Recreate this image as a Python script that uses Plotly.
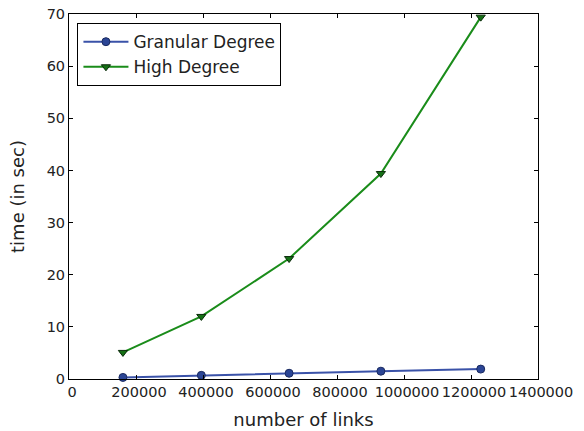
import plotly.graph_objects as go

# Number of links in each test graph
links = [161000, 395000, 657000, 931000, 1229000]

# Running times (seconds) for the two algorithms
granular_time = [0.3, 0.7, 1.1, 1.5, 1.9]
high_time = [5.1, 12.0, 23.1, 39.4, 69.4]

x_ticks = [0, 200000, 400000, 600000, 800000, 1000000, 1200000, 1400000]
y_ticks = [0, 10, 20, 30, 40, 50, 60, 70]

FONT = "DejaVu Sans"

fig = go.Figure()
fig.add_trace(go.Scatter(
    x=links, y=granular_time, mode="lines+markers", name="Granular Degree",
    line=dict(color="#3a52a8", width=2),
    marker=dict(symbol="circle", size=8, color="#2b4595",
                line=dict(color="#1a2a60", width=1)),
    cliponaxis=False,
))
fig.add_trace(go.Scatter(
    x=links, y=high_time, mode="lines+markers", name="High Degree",
    line=dict(color="#1a8c1a", width=2),
    marker=dict(symbol="triangle-down", size=8, color="#157015",
                line=dict(color="#0a2a0a", width=1)),
    cliponaxis=False,
))

axis_common = dict(
    showgrid=False, zeroline=False, showline=True, linecolor="black",
    linewidth=1, mirror="allticks", ticks="inside", ticklen=4,
    tickcolor="black", tickfont=dict(family=FONT, size=14.5, color="#222"),
    automargin=False, tickangle=0,
)

fig.update_layout(
    width=584, height=431,
    margin=dict(l=69, r=46, t=14, b=52),
    paper_bgcolor="white", plot_bgcolor="white",
    font=dict(family=FONT, color="#222"),
    showlegend=True,
    legend=dict(
        x=0.018, y=0.975, xanchor="left", yanchor="top",
        bgcolor="white", bordercolor="black", borderwidth=1,
        font=dict(family=FONT, size=17, color="#222"),
        itemwidth=45, tracegroupgap=0,
    ),
    xaxis=dict(
        range=[0, 1400000], tickvals=x_ticks,
        ticktext=[str(v) for v in x_ticks],
        ticklabelshift=3,
        title=dict(text="number of links", font=dict(family=FONT, size=18),
                   standoff=13),
        **axis_common,
    ),
    yaxis=dict(
        range=[0, 70], tickvals=y_ticks,
        title=dict(text="time (in sec)", font=dict(family=FONT, size=18),
                   standoff=17),
        **axis_common,
    ),
)

fig.write_html("out.html")
